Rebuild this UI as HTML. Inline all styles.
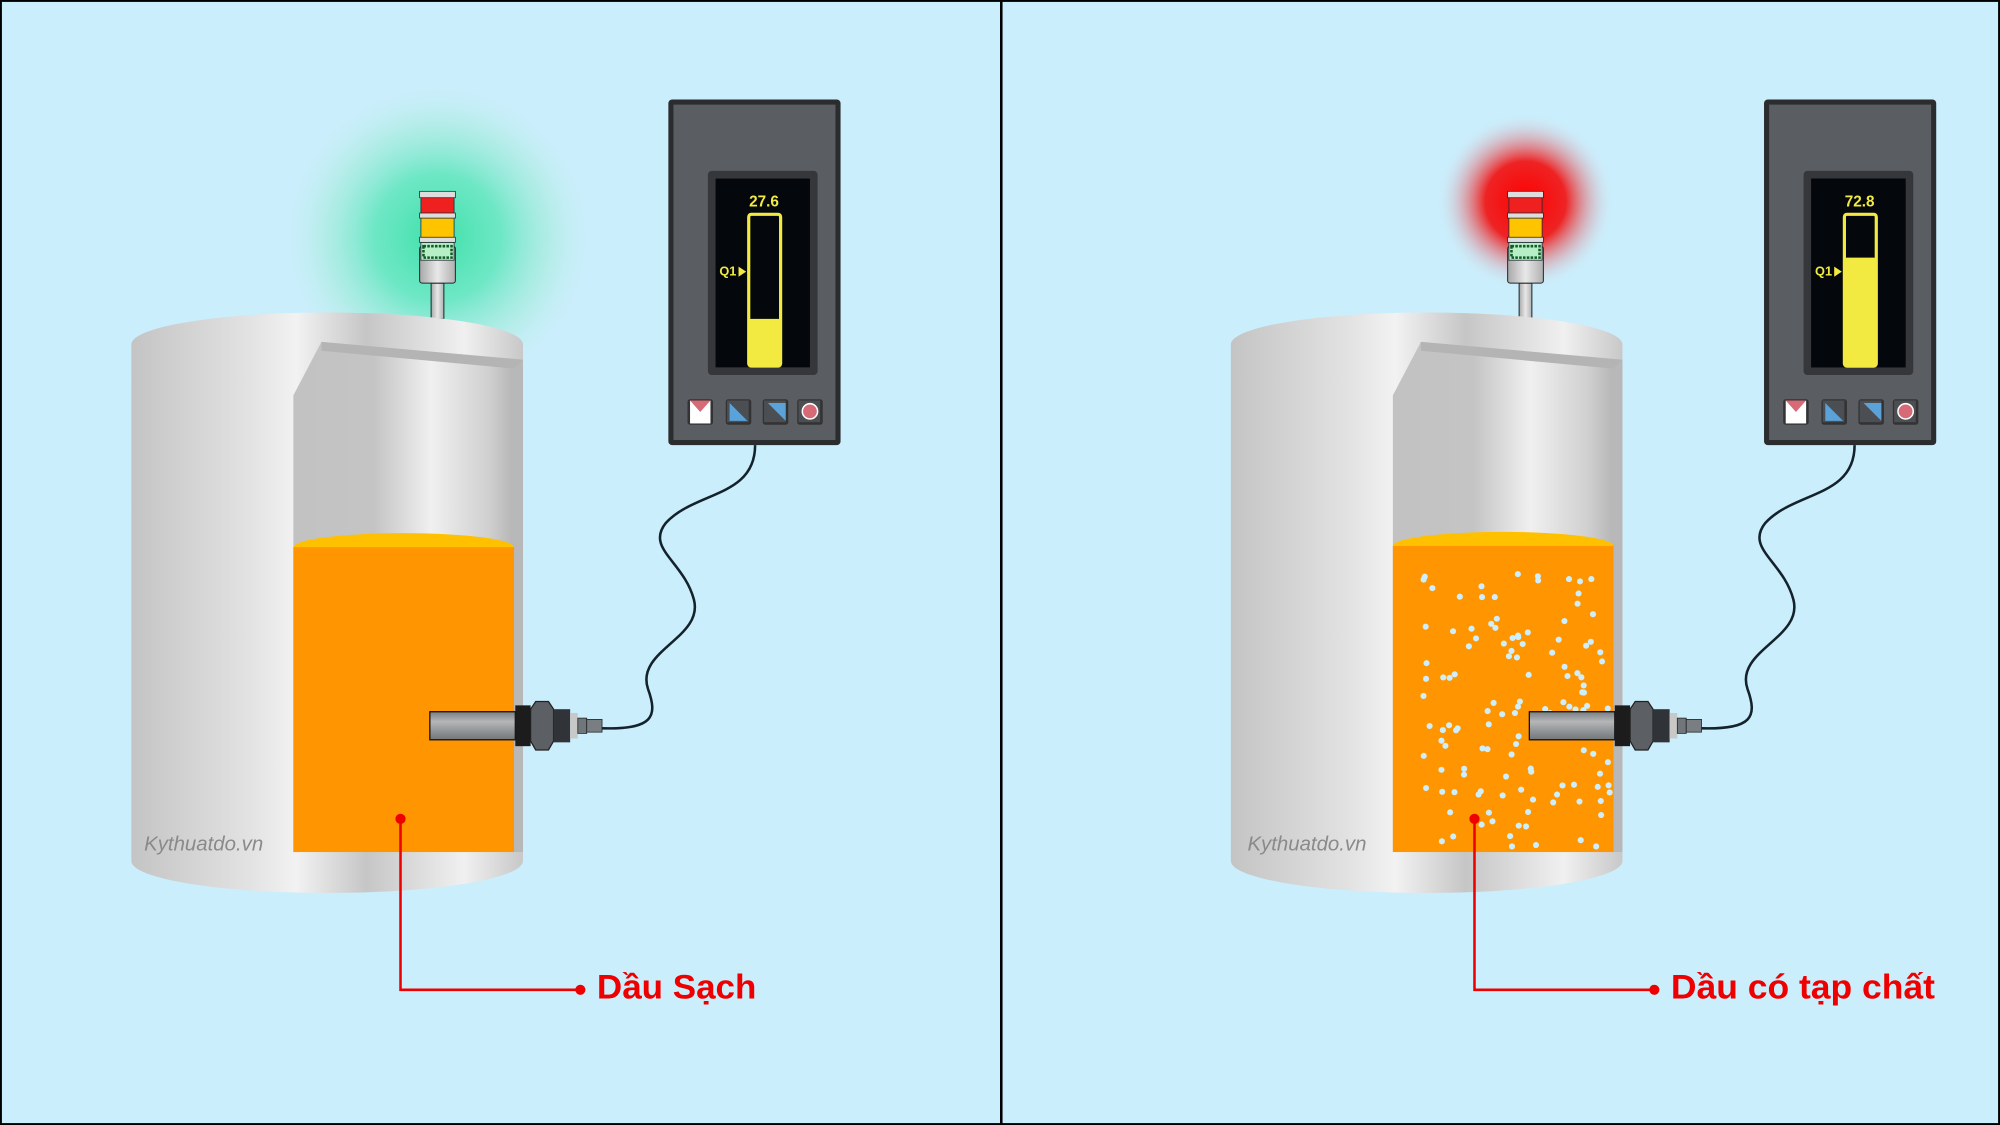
<!DOCTYPE html>
<html><head><meta charset="utf-8"><style>html,body{margin:0;padding:0;background:#cbeefc}svg{display:block}</style></head>
<body>
<svg id="s" width="2000" height="1125" viewBox="0 0 1568 882" xmlns="http://www.w3.org/2000/svg" font-family="Liberation Sans, sans-serif">
<defs>
<linearGradient id="tg" x1="0" x2="1"><stop offset="0" stop-color="#c4c4c4"/><stop offset="0.3" stop-color="#e2e2e2"/><stop offset="0.42" stop-color="#f2f2f2"/><stop offset="0.6" stop-color="#c6c6c6"/><stop offset="0.85" stop-color="#f0f0f0"/><stop offset="1" stop-color="#c8c8c8"/></linearGradient>
<linearGradient id="ig" x1="0" x2="1"><stop offset="0" stop-color="#c2c2c2"/><stop offset="0.35" stop-color="#c4c4c4"/><stop offset="0.6" stop-color="#f0f0f0"/><stop offset="0.85" stop-color="#d0d0d0"/><stop offset="0.95" stop-color="#b8b8b8"/></linearGradient>
<linearGradient id="rod" x1="0" y1="0" x2="0" y2="1"><stop offset="0" stop-color="#7a7e80"/><stop offset="0.35" stop-color="#b4b6b8"/><stop offset="1" stop-color="#727678"/></linearGradient>
<linearGradient id="pole" x1="0" x2="1"><stop offset="0" stop-color="#a8a8a8"/><stop offset="0.5" stop-color="#e8e8e8"/><stop offset="1" stop-color="#b0b0b0"/></linearGradient>
<radialGradient id="gg"><stop offset="0" stop-color="#3ee0a8"/><stop offset="0.4" stop-color="#5ee6bc" stop-opacity="0.85"/><stop offset="0.75" stop-color="#a8ecdc" stop-opacity="0.5"/><stop offset="1" stop-color="#cbeefc" stop-opacity="0"/></radialGradient>
<radialGradient id="rg"><stop offset="0" stop-color="#ff0000"/><stop offset="0.45" stop-color="#f01818" stop-opacity="0.95"/><stop offset="1" stop-color="#cbeefc" stop-opacity="0"/></radialGradient>
<g id="tank">
<path d="M103,270 L103,675 A153,25 0 0 0 410,675 L410,270 Z" fill="url(#tg)"/>
<ellipse cx="256.5" cy="270" rx="153.5" ry="25" fill="url(#tg)"/>
<path d="M230,310 L252,268 L410,282 L410,668 L230,668 Z" fill="url(#ig)"/>
<path d="M252,268 L410,282 L403,289 L252,275 Z" fill="#b4b4b4"/>
<rect x="403" y="288" width="7" height="380" fill="#b8b8b8"/>
</g>
<g id="panel">
<rect x="524" y="78" width="135" height="271" rx="3" fill="#2a2c2e"/>
<rect x="528" y="82" width="127" height="263" fill="#5a5d62"/>
<rect x="555" y="134" width="86" height="160" rx="3" fill="#35373a"/>
<rect x="561" y="140" width="74" height="148" fill="#04080d"/>
<rect x="587" y="168" width="25" height="119" rx="2" fill="none" stroke="#f2ea40" stroke-width="2.5"/>
<text x="599" y="162" fill="#f2ea40" font-size="12" font-weight="bold" text-anchor="middle" class="v">27.6</text>
<text x="564" y="216" fill="#f2ea40" font-size="10" font-weight="bold">Q1</text>
<path d="M579,209 L585,213 L579,217Z" fill="#f2ea40"/>
<g>
<rect x="539" y="313" width="20" height="20" rx="2" fill="#333"/><rect x="541" y="314" width="16" height="18" fill="#fff"/><path d="M541,314 L557,314 L549,323Z" fill="#d66a76"/>
<rect x="569" y="313" width="20" height="20" rx="2" fill="#333"/><rect x="570" y="314" width="17" height="17" fill="#4b4e52"/><path d="M572,316 L586,330 L572,330Z" fill="#5aa2d8"/>
<rect x="598" y="313" width="20" height="20" rx="2" fill="#333"/><rect x="599" y="314" width="17" height="17" fill="#4b4e52"/><path d="M602,316 L616,316 L616,330Z" fill="#5aa2d8"/>
<rect x="625" y="313" width="20" height="20" rx="2" fill="#333"/><rect x="626" y="314" width="17" height="17" fill="#4b4e52"/><circle cx="635" cy="322.5" r="6" fill="#d66a76" stroke="#fff" stroke-width="1.2"/>
</g>
</g>
<g id="sensor">
<rect x="337" y="558" width="67" height="22" fill="url(#rod)" stroke="#111" stroke-width="1"/>
<rect x="404" y="553" width="12" height="32" fill="#1c1c1c"/>
<path d="M416,556 L420,550 L430,550 L434,556 L434,581 L430,588 L420,588 L416,581Z" fill="#5c6064" stroke="#222"/>
<rect x="434" y="556" width="13" height="26" fill="#303438"/>
<rect x="447" y="559" width="6" height="20" fill="#c8c8c8"/>
<rect x="453" y="563" width="7" height="12" fill="#70767a" stroke="#222" stroke-width="0.6"/>
<rect x="460" y="564" width="12" height="10" fill="#787e82" stroke="#222" stroke-width="0.6"/>
</g>
<g id="tower">
<rect x="338" y="222" width="10" height="28" fill="url(#pole)" stroke="#1a2a30" stroke-width="0.8"/>
<rect x="329" y="193" width="28" height="29" rx="2" fill="url(#pole)" stroke="#1a2a30" stroke-width="0.8"/>
<rect x="330" y="154" width="26" height="14" fill="#ee2020" stroke="#1a2a30" stroke-width="0.6"/>
<rect x="330" y="171" width="26" height="16" fill="#ffc400" stroke="#1a2a30" stroke-width="0.6"/>
<rect x="330" y="190" width="26" height="14" fill="#b6eec6" stroke="#1a2a30" stroke-width="0.6"/>
<rect x="332" y="193" width="22" height="9" fill="none" stroke="#145a28" stroke-width="2" stroke-dasharray="2 1"/>
<rect x="329" y="150" width="28" height="5" fill="#ddd" stroke="#1a2a30" stroke-width="0.6"/>
<rect x="329" y="167" width="28" height="4" fill="#ddd" stroke="#1a2a30" stroke-width="0.6"/>
<rect x="329" y="186" width="28" height="4" fill="#ddd" stroke="#1a2a30" stroke-width="0.6"/>
</g>
</defs>
<rect width="1568" height="882" fill="#cbeefc"/>
<!-- left -->
<circle cx="343" cy="186" r="125" fill="url(#gg)"/>
<use href="#tower"/>
<use href="#tank"/>
<ellipse cx="316.5" cy="429" rx="86.5" ry="11" fill="#ffc000"/>
<rect x="230" y="429" width="173" height="239" fill="#ff9500"/>
<path d="M472,571 C512,572 516,562 508,540 C498,510 552,500 544,470 C536,440 506,430 522,410 C545,385 592,390 592,349" fill="none" stroke="#14222c" stroke-width="2"/>
<use href="#sensor"/>
<use href="#panel"/>
<text x="113" y="667" font-size="16" font-style="italic" fill="#8a8a8a">Kythuatdo.vn</text>
<path d="M314,642 L314,776 L455,776" fill="none" stroke="#ee0000" stroke-width="2"/>
<circle cx="314" cy="642" r="4" fill="#ee0000"/><circle cx="455" cy="776" r="4" fill="#ee0000"/>
<text x="468" y="783" font-size="27" font-weight="bold" fill="#ee0000" textLength="125" lengthAdjust="spacingAndGlyphs">Dầu Sạch</text>
<!-- right -->
<g transform="translate(862,0)">
<circle cx="334" cy="158" r="70" fill="url(#rg)"/>
<use href="#tower" transform="translate(-9,0)"/>
<use href="#tank"/>
<ellipse cx="316.5" cy="428" rx="86.5" ry="11" fill="#ffc000"/>
<rect x="230" y="428" width="173" height="240" fill="#ff9500"/>
<g id="dots" fill="#cdeefa"></g>
<path d="M472,571 C512,572 516,562 508,540 C498,510 552,500 544,470 C536,440 506,430 522,410 C545,385 592,390 592,349" fill="none" stroke="#14222c" stroke-width="2"/>
<use href="#sensor"/>
<use href="#panel" transform="translate(-3,0)"/>
<text x="116" y="667" font-size="16" font-style="italic" fill="#8a8a8a">Kythuatdo.vn</text>
<path d="M294,642 L294,776 L435,776" fill="none" stroke="#ee0000" stroke-width="2"/>
<circle cx="294" cy="642" r="4" fill="#ee0000"/><circle cx="435" cy="776" r="4" fill="#ee0000"/>
<text x="448" y="783" font-size="27" font-weight="bold" fill="#ee0000" textLength="207" lengthAdjust="spacingAndGlyphs">Dầu có tạp chất</text>
</g>
<rect x="784" y="0" width="2" height="882" fill="#000"/>
<rect x="0.75" y="0.75" width="1566.5" height="880.5" fill="none" stroke="#000" stroke-width="1.5"/>
</svg>
<script>
var r=document.querySelector('g[transform="translate(862,0)"]');
var p=document.createElementNS('http://www.w3.org/2000/svg','g');
p.setAttribute('transform','translate(-3,0)');
p.innerHTML='<rect x="561" y="140" width="74" height="148" fill="#04080d"/><rect x="587" y="168" width="25" height="119" rx="2" fill="none" stroke="#f2ea40" stroke-width="2.5"/><rect x="587" y="202" width="25" height="85" rx="2" fill="#f2ea40"/><text x="599" y="162" fill="#f2ea40" font-size="12" font-weight="bold" text-anchor="middle">72.8</text><text x="564" y="216" fill="#f2ea40" font-size="10" font-weight="bold">Q1</text><path d="M579,209 L585,213 L579,217Z" fill="#f2ea40"/>';
r.appendChild(p);
var l=document.createElementNS('http://www.w3.org/2000/svg','rect');
l.setAttribute('x',587);l.setAttribute('y',250);l.setAttribute('width',25);l.setAttribute('height',37);l.setAttribute('rx',2);l.setAttribute('fill','#f2ea40');
document.querySelector('#s').insertBefore(l,document.querySelector('text[x="113"]'));
var d=document.getElementById('dots'),seed=11,h='';
function rnd(){seed=(seed*16807)%2147483647;return seed/2147483647;}
for(var i=0;i<130;i++){var x=254+rnd()*146,y=450+rnd()*214;h+='<circle cx="'+x.toFixed(1)+'" cy="'+y.toFixed(1)+'" r="2.4"/>';}
d.innerHTML=h;
</script>
</body></html>
